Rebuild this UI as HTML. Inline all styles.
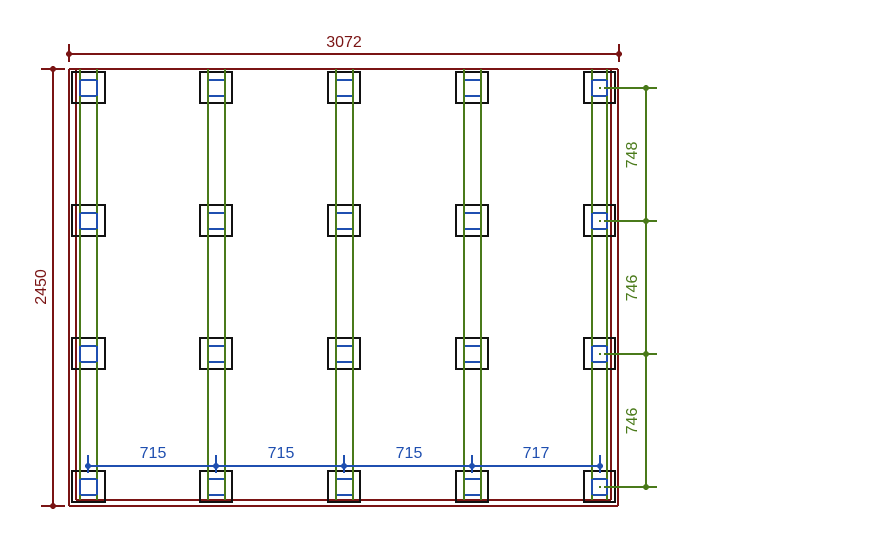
<!DOCTYPE html>
<html><head><meta charset="utf-8"><style>
html,body{margin:0;padding:0;background:#fff;}
svg{display:block;}
text{font-family:"Liberation Sans",sans-serif;font-size:16px;}
</style></head><body>
<svg width="894" height="550" viewBox="0 0 894 550" xmlns="http://www.w3.org/2000/svg" shape-rendering="crispEdges">
<g stroke="#7a1414" stroke-width="2" fill="none">
<line x1="69" y1="69" x2="618" y2="69"/>
<line x1="69" y1="69" x2="69" y2="506"/>
<line x1="76" y1="69" x2="76" y2="500"/>
<line x1="69" y1="506" x2="618" y2="506"/>
<line x1="76" y1="500" x2="611" y2="500"/>
<line x1="611" y1="69" x2="611" y2="500"/>
<line x1="618" y1="69" x2="618" y2="506"/>
<line x1="69" y1="54" x2="619" y2="54"/>
<line x1="69" y1="44" x2="69" y2="62"/>
<line x1="619" y1="44" x2="619" y2="62"/>
<line x1="53" y1="69" x2="53" y2="506"/>
<line x1="41" y1="69" x2="65" y2="69"/>
<line x1="41" y1="506" x2="65" y2="506"/>
</g>
<g fill="#7a1414">
<circle cx="69" cy="54" r="3"/><circle cx="619" cy="54" r="3"/>
<circle cx="53" cy="69" r="3"/><circle cx="53" cy="506" r="3"/>
<text x="344" y="47" text-anchor="middle">3072</text>
<text transform="translate(46,287) rotate(-90)" text-anchor="middle">2450</text>
</g>
<g fill="none" stroke-width="2">
<g id="r1">
<rect x="72" y="72" width="33" height="31" stroke="#111"/>
<rect x="200" y="72" width="32" height="31" stroke="#111"/>
<rect x="328" y="72" width="32" height="31" stroke="#111"/>
<rect x="456" y="72" width="32" height="31" stroke="#111"/>
<rect x="584" y="72" width="31" height="31" stroke="#111"/>
<rect x="80" y="80" width="17" height="16" stroke="#1f4fb0"/>
<rect x="208" y="80" width="17" height="16" stroke="#1f4fb0"/>
<rect x="336" y="80" width="17" height="16" stroke="#1f4fb0"/>
<rect x="464" y="80" width="17" height="16" stroke="#1f4fb0"/>
<rect x="592" y="80" width="15" height="16" stroke="#1f4fb0"/>
</g>
<use href="#r1" y="133"/>
<use href="#r1" y="266"/>
<use href="#r1" y="399"/>
</g>
<g stroke="#4a7a1a" stroke-width="1.6">
<line x1="208" y1="69" x2="208" y2="500"/><line x1="225" y1="69" x2="225" y2="500"/>
<line x1="336" y1="69" x2="336" y2="500"/><line x1="353" y1="69" x2="353" y2="500"/>
<line x1="464" y1="69" x2="464" y2="500"/><line x1="481" y1="69" x2="481" y2="500"/>
<line x1="80" y1="69" x2="80" y2="80"/><line x1="97" y1="69" x2="97" y2="80"/>
<line x1="80" y1="96" x2="80" y2="213"/><line x1="97" y1="96" x2="97" y2="213"/>
<line x1="80" y1="229" x2="80" y2="346"/><line x1="97" y1="229" x2="97" y2="346"/>
<line x1="80" y1="362" x2="80" y2="479"/><line x1="97" y1="362" x2="97" y2="479"/>
<line x1="80" y1="495" x2="80" y2="500"/><line x1="97" y1="495" x2="97" y2="500"/>
<line x1="592" y1="69" x2="592" y2="80"/><line x1="607" y1="69" x2="607" y2="80"/>
<line x1="592" y1="96" x2="592" y2="213"/><line x1="607" y1="96" x2="607" y2="213"/>
<line x1="592" y1="229" x2="592" y2="346"/><line x1="607" y1="229" x2="607" y2="346"/>
<line x1="592" y1="362" x2="592" y2="479"/><line x1="607" y1="362" x2="607" y2="479"/>
<line x1="592" y1="495" x2="592" y2="500"/><line x1="607" y1="495" x2="607" y2="500"/>
<line x1="646" y1="88" x2="646" y2="487"/>
<line x1="604" y1="88" x2="657" y2="88"/>
<line x1="604" y1="221" x2="657" y2="221"/>
<line x1="604" y1="354" x2="657" y2="354"/>
<line x1="604" y1="487" x2="657" y2="487"/>
</g>
<g fill="#4a7a1a">
<circle cx="646" cy="88" r="3"/><circle cx="646" cy="221" r="3"/><circle cx="646" cy="354" r="3"/><circle cx="646" cy="487" r="3"/>
<rect x="599" y="87" width="2" height="2"/><rect x="599" y="220" width="2" height="2"/><rect x="599" y="353" width="2" height="2"/><rect x="599" y="486" width="2" height="2"/>
<text transform="translate(637,155) rotate(-90)" text-anchor="middle">748</text>
<text transform="translate(637,288) rotate(-90)" text-anchor="middle">746</text>
<text transform="translate(637,421) rotate(-90)" text-anchor="middle">746</text>
</g>
<g stroke="#1f4fb0" stroke-width="2">
<line x1="88" y1="466" x2="600" y2="466"/>
<line x1="88" y1="455" x2="88" y2="473"/>
<line x1="216" y1="455" x2="216" y2="473"/>
<line x1="344" y1="455" x2="344" y2="473"/>
<line x1="472" y1="455" x2="472" y2="473"/>
<line x1="600" y1="455" x2="600" y2="473"/>
</g>
<g fill="#1f4fb0">
<circle cx="88" cy="466" r="3"/><circle cx="216" cy="466" r="3"/><circle cx="344" cy="466" r="3"/><circle cx="472" cy="466" r="3"/><circle cx="600" cy="466" r="3"/>
<text x="153" y="458" text-anchor="middle">715</text>
<text x="281" y="458" text-anchor="middle">715</text>
<text x="409" y="458" text-anchor="middle">715</text>
<text x="536" y="458" text-anchor="middle">717</text>
</g>
</svg>
</body></html>
